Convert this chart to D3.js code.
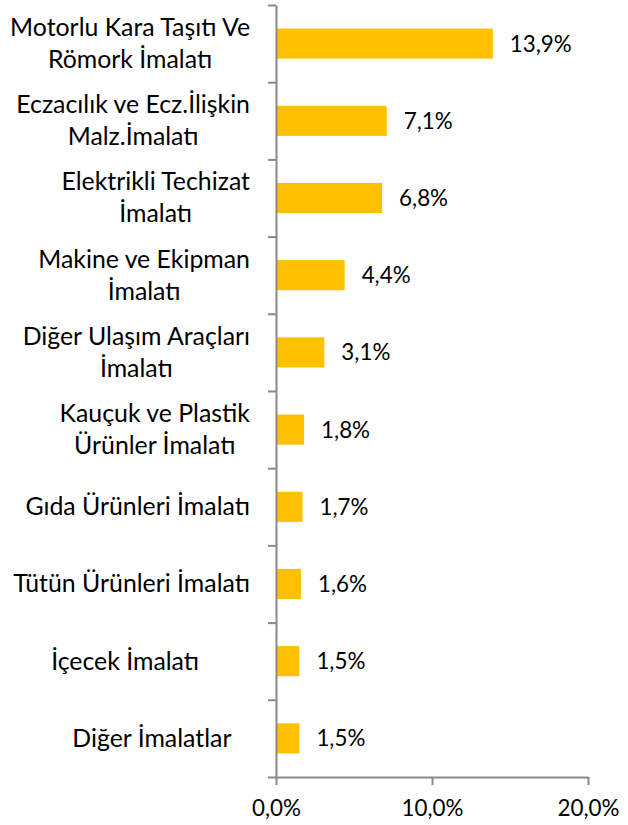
<!DOCTYPE html>
<html>
<head>
<meta charset="utf-8">
<script src="https://cdn.jsdelivr.net/npm/d3@7"></script>
<style>
  body { margin: 0; background: #fff; }
  text { font-family: Lato, "Noto Sans", sans-serif; fill: #000; }
</style>
</head>
<body>
<div id="chart"></div>
<script>
// category labels, one entry per line of text (trailing spaces are part of the labels)
const categories = [
    ["Motorlu Kara Taşıtı Ve", "Römork İmalatı"],
    ["Eczacılık ve Ecz.İlişkin", "Malz.İmalatı"],
    ["Elektrikli Techizat", "İmalatı"],
    ["Makine ve Ekipman", "İmalatı"],
    ["Diğer Ulaşım Araçları", "İmalatı"],
    ["Kauçuk ve Plastik", "Ürünler İmalatı"],
    ["Gıda Ürünleri İmalatı"],
    ["Tütün Ürünleri İmalatı"],
    ["İçecek İmalatı\u00A0\u00A0\u00A0\u00A0\u00A0\u00A0\u00A0\u00A0"],
    ["Diğer İmalatlar\u00A0\u00A0\u00A0"]
];
const values = [13.9, 7.1, 6.8, 4.4, 3.1, 1.8, 1.7, 1.6, 1.5, 1.5];
const xTicks = [0, 10, 20];

function main() {
    const width = 628;
    const height = 825;
    const left = 276, right = 588, top = 5, bottom = 777;

    const svg = d3.select("#chart").append("svg")
        .attr("width", width)
        .attr("height", height);

    // pick font sizes so the text takes the same room as in the original
    function fitSize(str, target) {
        const t = svg.append("text").style("font-size", "100px").text(str);
        const w = t.node().getComputedTextLength();
        t.remove();
        return 100 * target / w;
    }
    const catSize = fitSize("Motorlu Kara Taşıtı Ve", 240);
    const valSize = fitSize("13,9%", 62);

    const fmt = d => d.toFixed(1).replace(".", ",") + "%";

    const x = d3.scaleLinear().domain([0, 20]).range([left, right]);
    const y = d3.scaleBand()
        .domain(d3.range(values.length))
        .range([top, bottom])
        .paddingInner(0.61)
        .paddingOuter(0.305);
    const yEdges = d3.scaleLinear().domain([0, values.length]).range([top, bottom]);

    // bars
    svg.append("g")
        .selectAll("rect")
        .data(values)
        .enter().append("rect")
        .attr("x", x(0))
        .attr("y", (d, i) => y(i))
        .attr("width", d => x(d) - x(0))
        .attr("height", y.bandwidth())
        .attr("fill", "#FFC000");

    // value labels
    svg.append("g")
        .selectAll("text")
        .data(values)
        .enter().append("text")
        .attr("x", d => x(d) + 17)
        .attr("y", (d, i) => y(i) + y.bandwidth() / 2)
        .attr("dy", "0.36em")
        .style("font-size", valSize + "px")
        .text(fmt);

    // y axis with ticks between the categories
    svg.append("g")
        .attr("transform", `translate(${left},0)`)
        .call(d3.axisLeft(yEdges).ticks(values.length).tickSize(8).tickSizeOuter(0).tickFormat(""));

    // x axis
    const xAxis = svg.append("g")
        .attr("transform", `translate(0,${bottom})`)
        .call(d3.axisBottom(x).tickValues(xTicks).tickSize(8).tickSizeOuter(0).tickPadding(15).tickFormat(fmt));

    xAxis.selectAll("text")
        .style("font-size", valSize + "px")
        .attr("fill", "#000");

    svg.selectAll(".domain, .tick line")
        .attr("stroke", "#898989")
        .attr("stroke-width", 2);

    // category labels: block right aligned next to the axis, lines centred in the block
    const labelRight = left - 8 - 18;
    const lineH = 32;
    categories.forEach((lines, i) => {
        const cy = y(i) + y.bandwidth() / 2;
        const g = svg.append("g");
        const texts = lines.map((s, j) => g.append("text")
            .attr("y", cy + (j - (lines.length - 1) / 2) * lineH)
            .attr("dy", "0.34em")
            .attr("text-anchor", "middle")
            .style("font-size", catSize + "px")
            .text(s));
        const blockW = d3.max(texts, t => t.node().getComputedTextLength());
        texts.forEach(t => t.attr("x", labelRight - blockW / 2));
    });
}
main();
</script>
</body>
</html>
